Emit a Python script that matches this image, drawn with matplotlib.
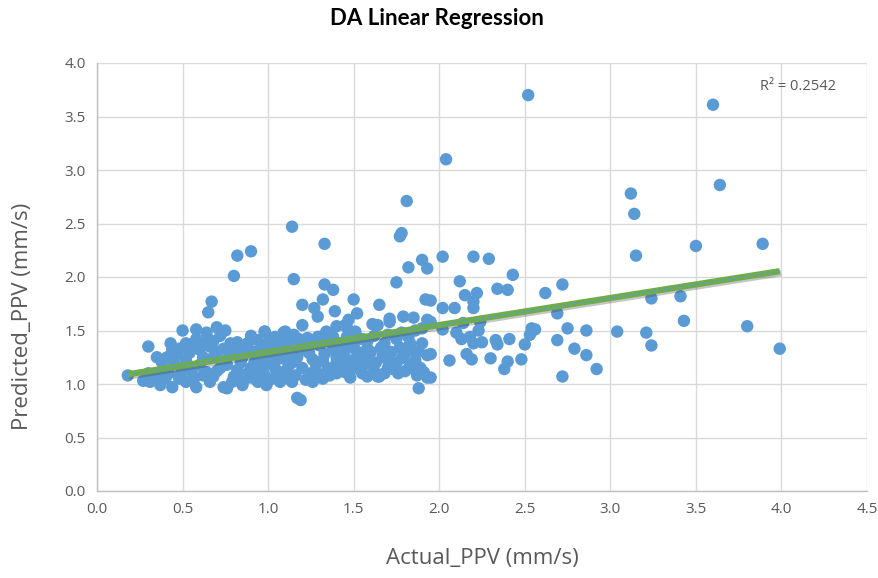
import matplotlib
matplotlib.use("Agg")
import matplotlib.pyplot as plt
import matplotlib.patheffects as pe
import numpy as np

# ---- data ----
actual_ppv = [
    2.52, 3.60, 3.64, 2.04, 3.12, 3.14, 3.15, 3.50, 3.89, 1.81, 1.14, 0.90, 0.82, 0.80, 1.33,
    1.78, 1.77, 2.02, 2.20, 2.29, 1.90, 1.93, 1.82, 2.43, 2.12, 1.15, 1.33, 1.38, 1.75, 2.34,
    2.40, 2.15, 2.22, 2.20, 2.20, 2.02, 2.09, 2.62, 2.72, 2.69, 1.92, 1.32, 1.50, 1.20, 1.27,
    1.29, 1.39, 1.52, 1.65, 0.67, 0.65,
    3.24, 3.41, 3.43, 3.80, 3.99, 3.04, 3.21, 3.24, 2.75, 2.86, 2.69, 2.79, 2.86, 2.92, 2.72,
    2.54, 2.56, 2.53, 2.50, 2.48, 2.40, 2.38, 2.30, 2.16, 2.19, 2.06, 2.41, 2.33, 2.34, 2.25,
    2.20, 2.13, 2.18, 2.10, 2.23, 2.02, 2.14, 2.24, 1.95, 1.95, 1.95, 1.95, 1.88,
    1.47, 1.45, 1.71, 1.79, 1.85, 1.93, 1.61, 1.40, 1.34, 1.29, 1.20, 1.15, 1.10, 1.04, 0.98,
    1.46, 1.51, 1.71, 1.64,
    1.55, 1.62, 1.70, 1.78, 1.86, 1.90, 1.58, 1.68, 1.75, 1.82,
    0.99, 1.05, 1.11, 1.17, 1.24, 1.32, 1.40, 1.47, 1.54, 1.60, 1.67, 1.77, 1.84, 1.93,
    0.95, 1.01, 1.07, 1.14, 1.22, 1.29, 1.45, 1.48, 1.55, 1.64, 1.76, 1.84, 1.91, 1.93, 1.19, 1.17,
    1.46, 1.54, 1.61, 1.70, 1.75, 1.83, 1.89, 1.58, 1.65,
    1.35, 1.28, 1.20, 1.12, 1.04, 1.38, 1.30, 1.22, 1.14, 1.06, 1.00, 1.42, 1.36, 1.25, 1.16,
    1.10, 1.52, 1.58, 1.63, 1.70, 1.78, 1.86, 1.72, 1.50, 1.44,
    0.82, 0.88, 0.94, 1.03, 1.11, 1.17, 1.23, 1.30, 1.38, 1.46,
    0.50, 0.58, 0.64, 0.70, 0.75, 0.98, 1.09, 0.30, 0.43, 0.44, 0.35, 0.41, 0.54, 0.60, 0.66,
    0.78, 0.82, 0.88, 1.01, 1.05, 0.18,
    0.31, 0.37, 0.44, 0.52, 0.58, 0.66, 0.74, 0.79, 0.85, 0.94, 0.99, 1.07, 0.76,
    0.30, 0.39, 0.49, 0.54, 0.64, 0.72, 0.82, 0.88, 0.97, 1.05, 1.11,
    0.45, 0.52, 0.60, 0.68, 0.75, 0.85, 0.92, 0.70, 0.62, 0.48, 0.57, 0.68, 0.80, 0.90, 0.40,
    0.34, 0.58, 0.65, 0.72, 0.90, 0.52, 0.47, 0.27, 0.95, 0.78,
    0.56, 0.62, 0.70, 0.76, 0.84, 0.90, 0.96, 1.02, 1.08, 1.14, 1.18, 1.26, 1.33, 1.40, 1.48,
    1.56, 1.62, 1.68, 1.73, 1.80, 1.87, 1.80, 1.88, 1.90, 1.83, 1.66, 1.58, 1.52, 1.42, 1.34,
    1.26, 1.18, 1.08, 0.98, 0.92, 0.86, 0.74, 0.68, 0.60, 0.55, 0.48, 0.38, 0.42, 1.32, 1.40,
    1.50, 1.26, 1.12, 0.98, 0.86,
]
predicted_ppv = [
    3.70, 3.61, 2.86, 3.10, 2.78, 2.59, 2.20, 2.29, 2.31, 2.71, 2.47, 2.24, 2.20, 2.01, 2.31,
    2.41, 2.38, 2.19, 2.19, 2.17, 2.16, 2.08, 2.09, 2.02, 1.96, 1.98, 1.93, 1.88, 1.95, 1.89,
    1.88, 1.83, 1.85, 1.77, 1.71, 1.71, 1.71, 1.85, 1.93, 1.66, 1.79, 1.79, 1.79, 1.74, 1.71,
    1.63, 1.68, 1.66, 1.74, 1.77, 1.67,
    1.80, 1.82, 1.59, 1.54, 1.33, 1.49, 1.48, 1.36, 1.52, 1.50, 1.41, 1.33, 1.27, 1.14, 1.07,
    1.52, 1.51, 1.46, 1.37, 1.23, 1.21, 1.14, 1.24, 1.28, 1.23, 1.22, 1.42, 1.41, 1.37, 1.39,
    1.38, 1.42, 1.44, 1.48, 1.50, 1.51, 1.57, 1.58, 1.58, 1.78, 1.28, 1.06, 0.96,
    1.60, 1.55, 1.61, 1.63, 1.62, 1.60, 1.56, 1.54, 1.49, 1.44, 1.55, 1.46, 1.49, 1.44, 1.49,
    1.53, 1.49, 1.58, 1.55,
    1.42, 1.45, 1.46, 1.48, 1.50, 1.52, 1.40, 1.38, 1.42, 1.44,
    1.24, 1.25, 1.30, 1.25, 1.29, 1.22, 1.25, 1.34, 1.29, 1.30, 1.27, 1.34, 1.32, 1.27,
    1.10, 1.04, 1.07, 1.02, 1.04, 1.10, 1.11, 1.06, 1.10, 1.07, 1.10, 1.15, 1.11, 1.06, 0.85, 0.87,
    1.16, 1.13, 1.18, 1.15, 1.20, 1.18, 1.15, 1.07, 1.07,
    1.15, 1.18, 1.15, 1.17, 1.15, 1.32, 1.36, 1.35, 1.37, 1.33, 1.30, 1.18, 1.08, 1.10, 1.08,
    1.12, 1.22, 1.25, 1.20, 1.22, 1.24, 1.22, 1.30, 1.36, 1.28,
    1.39, 1.38, 1.41, 1.41, 1.38, 1.39, 1.43, 1.44, 1.44, 1.44,
    1.50, 1.51, 1.48, 1.53, 1.50, 1.49, 1.48, 1.35, 1.38, 1.32, 1.25, 1.25, 1.29, 1.32, 1.35,
    1.38, 1.32, 1.35, 1.41, 1.36, 1.08,
    1.02, 0.99, 0.97, 1.02, 0.97, 1.02, 0.97, 1.02, 0.99, 1.02, 0.99, 1.02, 0.96,
    1.10, 1.13, 1.10, 1.13, 1.11, 1.15, 1.13, 1.10, 1.15, 1.11, 1.13,
    1.20, 1.22, 1.18, 1.25, 1.22, 1.25, 1.20, 1.30, 1.25, 1.05, 1.06, 1.07, 1.07, 1.06, 1.05,
    1.06, 1.42, 1.42, 1.45, 1.45, 1.38, 1.28, 1.03, 1.30, 1.28,
    1.15, 1.08, 1.12, 1.18, 1.20, 1.15, 1.22, 1.20, 1.24, 1.20, 1.30, 1.23, 1.28, 1.20, 1.22,
    1.18, 1.12, 1.10, 1.14, 1.12, 1.08, 1.28, 1.30, 1.38, 1.38, 1.34, 1.33, 1.30, 1.38, 1.40,
    1.38, 1.42, 1.40, 1.36, 1.30, 1.30, 1.33, 1.40, 1.38, 1.35, 1.33, 1.20, 1.10, 1.05, 1.10,
    1.15, 1.02, 1.05, 1.08, 1.04,
]

trend_slope = 0.253
trend_intercept = 1.045
r_squared_label = "R² = 0.2542"

title = "DA Linear Regression"
x_label = "Actual_PPV (mm/s)"
y_label = "Predicted_PPV (mm/s)"
x_ticks = [0.0, 0.5, 1.0, 1.5, 2.0, 2.5, 3.0, 3.5, 4.0, 4.5]
y_ticks = [0.0, 0.5, 1.0, 1.5, 2.0, 2.5, 3.0, 3.5, 4.0]

# ---- figure ----
TXT = "#595959"
fig = plt.figure(figsize=(8.79, 5.78), dpi=100)
ax = fig.add_axes([97 / 879, 87 / 578, 770 / 879, 428 / 578])

ax.set_xlim(0, 4.5)
ax.set_ylim(0, 4.0)
ax.set_xticks(x_ticks)
ax.set_yticks(y_ticks)
ax.set_xticklabels([f"{v:.1f}" for v in x_ticks])
ax.set_yticklabels([f"{v:.1f}" for v in y_ticks])
ax.grid(True, color="#d9d9d9", linewidth=1.0, zorder=0)
ax.set_axisbelow(True)
for s in ["top", "right"]:
    ax.spines[s].set_visible(False)
for s in ["left", "bottom"]:
    ax.spines[s].set_color("#bfbfbf")
    ax.spines[s].set_linewidth(1.0)
ax.tick_params(length=0, pad=8, labelsize=11, labelcolor=TXT)
for lab in ax.get_xticklabels() + ax.get_yticklabels():
    lab.set_fontfamily("Open Sans")

ax.scatter(actual_ppv, predicted_ppv, s=80, color="#5B9BD5", edgecolors="none", zorder=3)

xs = np.array([min(actual_ppv), max(actual_ppv)])
ys = trend_intercept + trend_slope * xs
ax.plot(xs, ys, color="#70AD47", linewidth=4.5, solid_capstyle="butt", zorder=4,
        path_effects=[pe.SimpleLineShadow(offset=(1.0, -1.5), shadow_color="#404040", alpha=0.3),
                      pe.Normal()])
ax.plot(xs, ys, color="#5B9BD5", linewidth=1.6, linestyle=(0, (1, 1.6)), zorder=5)

ax.text(3.875, 3.785, r_squared_label, fontsize=10.5, color=TXT, family="Open Sans",
        ha="left", va="center")

ax.set_xlabel(x_label, fontsize=16, color=TXT, family="Open Sans", labelpad=22)
ax.set_ylabel(y_label, fontsize=16, color=TXT, family="Open Sans")
ax.yaxis.set_label_coords(-0.083, 0.407)
fig.text(0.497, 0.968, title, fontsize=16, fontweight="bold", family="Lato",
         ha="center", va="center", color="black")

fig.savefig("out.png", dpi=100)
